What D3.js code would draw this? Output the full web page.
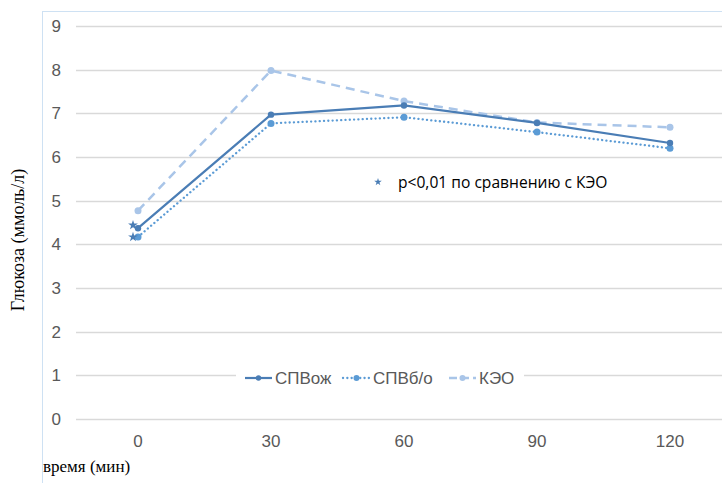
<!DOCTYPE html>
<html>
<head>
<meta charset="utf-8">
<script src="https://cdn.jsdelivr.net/npm/d3@7"></script>
<style>
  body { margin: 0; background: #fff; }
  svg { display: block; }
</style>
</head>
<body>
<div id="chart"></div>
<script>
var times = ['0', '30', '60', '90', '120'];
var yTicks = [0, 1, 2, 3, 4, 5, 6, 7, 8, 9];
var spvozh = [4.37, 6.97, 7.18, 6.78, 6.32];
var spvbo = [4.17, 6.77, 6.91, 6.57, 6.20];
var keo = [4.77, 7.98, 7.28, 6.79, 6.68];
var starValues = [4.45, 4.18];
var seriesNames = ['СПВож', 'СПВб/о', 'КЭО'];

var width = 722, height = 483;
var svg = d3.select('#chart').append('svg')
    .attr('width', width)
    .attr('height', height);

// dotted chart-area border
svg.append('rect')
    .attr('x', 42.5).attr('y', 11.5)
    .attr('width', 700).attr('height', 500)
    .attr('fill', 'none')
    .attr('stroke', '#9dc3e6')
    .attr('stroke-dasharray', '1,1');

var x = d3.scalePoint().domain(times).range([138, 670]);
var y = d3.scaleLinear().domain([0, 9]).range([419, 26]);

// gridlines
svg.append('g')
    .selectAll('line')
    .data(yTicks)
    .enter().append('line')
    .attr('x1', 76).attr('x2', 722)
    .attr('y1', d => Math.round(y(d)) + 0.5)
    .attr('y2', d => Math.round(y(d)) + 0.5)
    .attr('stroke', '#d9d9d9')
    .attr('stroke-width', 1.3);

// y tick labels
svg.append('g')
    .selectAll('text')
    .data(yTicks)
    .enter().append('text')
    .attr('x', 61)
    .attr('y', d => y(d) + 6)
    .attr('text-anchor', 'end')
    .attr('font-family', 'Liberation Sans, Arial, sans-serif')
    .attr('font-size', 17)
    .attr('fill', '#595959')
    .text(d => d);

// x tick labels
svg.append('g')
    .selectAll('text')
    .data(times)
    .enter().append('text')
    .attr('x', d => x(d))
    .attr('y', 447)
    .attr('text-anchor', 'middle')
    .attr('font-family', 'Liberation Sans, Arial, sans-serif')
    .attr('font-size', 17)
    .attr('fill', '#595959')
    .text(d => d);

// axis titles
svg.append('text')
    .attr('transform', 'translate(24,240) rotate(-90)')
    .attr('text-anchor', 'middle')
    .attr('font-family', 'Liberation Serif, Times New Roman, serif')
    .attr('font-size', 18)
    .attr('fill', '#000')
    .text('Глюкоза (ммоль/л)');

svg.append('text')
    .attr('x', 43).attr('y', 472)
    .attr('font-family', 'Liberation Serif, Times New Roman, serif')
    .attr('font-size', 17)
    .attr('fill', '#000')
    .text('время (мин)');

var series = [
    { name: seriesNames[0], values: spvozh, color: '#4a7db5', dash: null, cap: 'butt', width: 2.2, r: 3.2 },
    { name: seriesNames[1], values: spvbo, color: '#5b9bd5', dash: '0.1,4.2', cap: 'round', width: 2.3, r: 3.5 },
    { name: seriesNames[2], values: keo, color: '#a9c5e8', dash: '9,6', cap: 'butt', width: 2.5, r: 3.5 }
];

var line = d3.line()
    .x((d, i) => x(times[i]))
    .y(d => y(d));

// draw KЭО first so solid sits on top
[series[2], series[1], series[0]].forEach(function(s) {
    svg.append('path')
        .datum(s.values)
        .attr('d', line)
        .attr('fill', 'none')
        .attr('stroke', s.color)
        .attr('stroke-width', s.width)
        .attr('stroke-linecap', s.cap)
        .attr('stroke-dasharray', s.dash);
    svg.append('g')
        .selectAll('circle')
        .data(s.values)
        .enter().append('circle')
        .attr('cx', (d, i) => x(times[i]))
        .attr('cy', d => y(d))
        .attr('r', s.r)
        .attr('fill', s.color);
});

// significance stars next to point 0
var star = d3.symbol().type(d3.symbolStar).size(30);
svg.append('g')
    .selectAll('path')
    .data(starValues)
    .enter().append('path')
    .attr('d', star)
    .attr('transform', d => 'translate(' + (x('0') - 5) + ',' + (y(d) + 0.5) + ')')
    .attr('fill', '#4a7db5');

// note
svg.append('path')
    .attr('d', d3.symbol().type(d3.symbolStar).size(18))
    .attr('transform', 'translate(378,182)')
    .attr('fill', '#4a7db5');
svg.append('text')
    .attr('x', 398).attr('y', 188)
    .attr('font-family', 'Open Sans, Carlito, Calibri, sans-serif')
    .attr('font-size', 15.6)
    .attr('fill', '#000')
    .text('p<0,01 по сравнению с КЭО');

// legend
svg.append('rect')
    .attr('x', 236).attr('y', 366)
    .attr('width', 288).attr('height', 24)
    .attr('fill', '#fff');

var legendX = [245, 343, 449];
series.forEach(function(s, i) {
    var lx = legendX[i];
    svg.append('line')
        .attr('x1', lx).attr('x2', lx + 27)
        .attr('y1', 378).attr('y2', 378)
        .attr('stroke', s.color)
        .attr('stroke-width', s.width)
        .attr('stroke-linecap', s.cap)
        .attr('stroke-dasharray', s.dash ? (i === 2 ? '8,4' : s.dash) : null);
    svg.append('circle')
        .attr('cx', lx + 13.5).attr('cy', 378)
        .attr('r', s.r - 0.5)
        .attr('fill', s.color);
    svg.append('text')
        .attr('x', lx + 30).attr('y', 384)
        .attr('font-family', 'Liberation Sans, Arial, sans-serif')
        .attr('font-size', 17)
        .attr('fill', '#595959')
        .text(s.name);
});
</script>
</body>
</html>
